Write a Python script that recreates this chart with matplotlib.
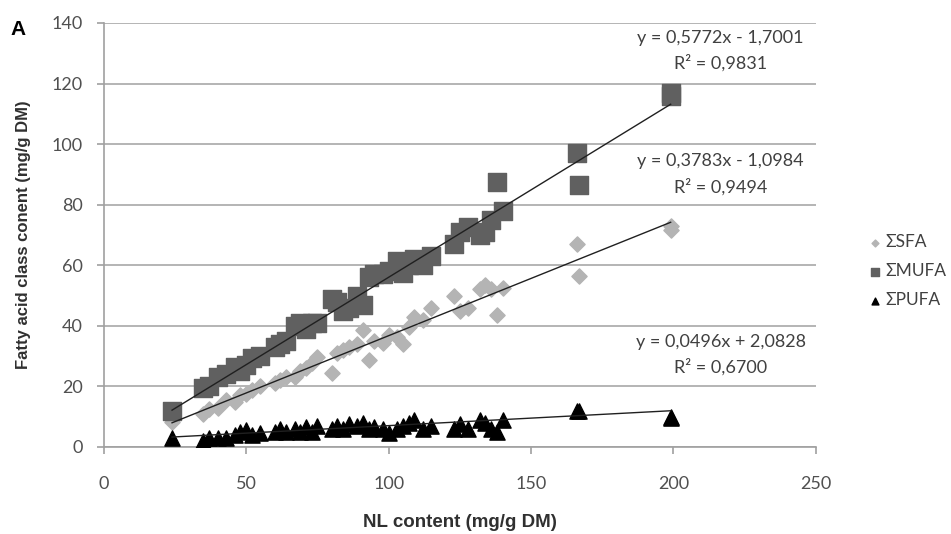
import numpy as np
import matplotlib
matplotlib.use("Agg")
from matplotlib import pyplot as plt

plt.rcParams['font.family'] = ['Lato', 'DejaVu Sans']

# NL content of each sample (mg/g DM)
nl = [24, 35, 37, 40, 43, 46, 48, 50, 52, 55, 60, 62, 64, 67, 69, 71, 73, 75, 80, 82,
      84, 86, 89, 91, 93, 95, 98, 100, 103, 105, 107, 109, 112, 115, 123, 125, 128, 132,
      134, 136, 138, 140, 166, 167, 199, 199]

sfa = [8.3, 11, 12.5, 13, 15.5, 15, 17, 17.5, 18.8, 20, 21, 22, 23, 23, 25, 26, 27.7, 29.7,
       24.4, 31, 32, 33, 34, 38.6, 28.7, 35, 34.3, 37, 36.3, 34, 39.6, 43, 42, 46, 50, 45,
       46, 52, 53.5, 52, 43.6, 52.5, 67, 56.5, 71.6, 73]

mufa = [12, 19.5, 20, 23, 24, 26.5, 25, 27, 29.5, 30, 33, 34, 35, 40, 41, 39, 41, 41, 49, 48,
        45, 46, 50, 47, 56, 57, 57, 58, 61.5, 57.5, 60, 62, 60, 63, 67, 71, 72.5, 70, 71, 75,
        87.5, 78, 97, 86.5, 117, 116]

pufa = [3, 2, 3, 3, 3, 4, 5, 5.5, 4, 4.5, 5, 6, 5, 6, 5, 6.5, 5, 7, 6, 7, 6, 7.5, 7, 8, 6,
        6.5, 6, 4.5, 6, 7, 8, 9, 6, 7, 6, 7.5, 6, 9, 8, 6, 5, 9, 12, 12, 10, 9.5]

# trendline equations printed on the chart
fits = {
    'sfa': (0.3783, -1.0984),
    'mufa': (0.5772, -1.7001),
    'pufa': (0.0496, 2.0828),
}

bold = ['Liberation Sans', 'DejaVu Sans']

fig = plt.figure(figsize=(9.51, 5.34), dpi=100)
ax = fig.add_axes([0.109, 0.163, 0.749, 0.794])

ax.scatter(nl, sfa, marker='D', s=60, c='#b4b4b4', label='ΣSFA', zorder=3)
ax.scatter(nl, mufa, marker='s', s=150, c='#606060', label='ΣMUFA', zorder=3)
ax.scatter(nl, pufa, marker='^', s=120, c='black', label='ΣPUFA', zorder=3)

xs = np.array([min(nl), max(nl)])
for key in ['sfa', 'mufa', 'pufa']:
    a, b = fits[key]
    ax.plot(xs, a * xs + b, color='#202020', lw=1.0, zorder=4)

txt = dict(ha='center', va='center', fontsize=13, color='#404040')
ax.text(216.5, 135, 'y = 0,5772x - 1,7001', **txt)
ax.text(216.5, 126.7, 'R² = 0,9831', **txt)
ax.text(216.5, 94.4, 'y = 0,3783x - 1,0984', **txt)
ax.text(216.5, 86, 'R² = 0,9494', **txt)
ax.text(216.5, 34.6, 'y = 0,0496x + 2,0828', **txt)
ax.text(216.5, 26.4, 'R² = 0,6700', **txt)

ax.set_xlim(0, 250)
ax.set_ylim(0, 140)
ax.set_xticks([0, 50, 100, 150, 200, 250])
ax.set_yticks(range(0, 141, 20))
ax.yaxis.grid(True, color='#a8a8a8', lw=1.2)
ax.set_axisbelow(True)
for s in ['top', 'right']:
    ax.spines[s].set_visible(False)
for s in ['left', 'bottom']:
    ax.spines[s].set_color('#a0a0a0')
    ax.spines[s].set_linewidth(1.2)
ax.tick_params(colors='#a0a0a0', labelcolor='#505050', labelsize=13, length=5, width=1.2)
ax.tick_params(axis='x', pad=16)
ax.tick_params(axis='y', pad=10)

ax.set_xlabel('NL content (mg/g DM)', fontsize=13.5, fontweight='bold', color='#303030',
              family=bold, labelpad=16)
ax.set_ylabel('Fatty acid class conent (mg/g DM)', fontsize=12, fontweight='bold', color='#303030',
              family=bold, labelpad=15)
fig.text(0.011, 0.935, 'A', fontsize=15, fontweight='bold', family=bold)

leg = ax.legend(loc='center left', bbox_to_anchor=(0.898, 0.492), bbox_transform=fig.transFigure,
                frameon=False, fontsize=12.5, handlelength=0.6, handletextpad=0.3,
                labelspacing=0.75, markerscale=0.45)
for t in leg.get_texts():
    t.set_color('#404040')

fig.savefig('out.png', dpi=100)
